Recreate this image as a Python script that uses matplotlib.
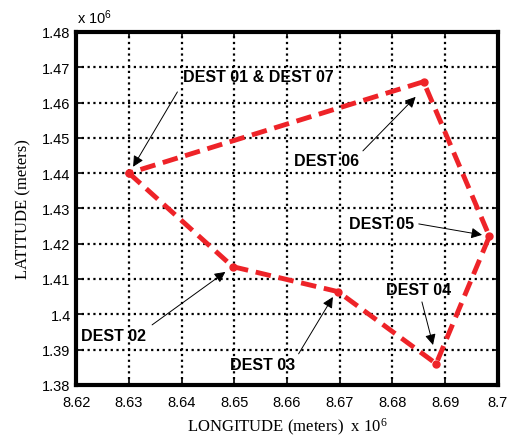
import matplotlib
matplotlib.use("Agg")
from matplotlib import pyplot as plt

# route through the destinations (x 10^6 metres)
dest_names = ["DEST 01", "DEST 02", "DEST 03", "DEST 04", "DEST 05", "DEST 06", "DEST 07"]
longitude = [8.6300, 8.6497, 8.6697, 8.6883, 8.6984, 8.6859, 8.6300]
latitude = [1.4400, 1.4135, 1.4064, 1.3860, 1.4221, 1.4659, 1.4400]

x_ticks = [8.62, 8.63, 8.64, 8.65, 8.66, 8.67, 8.68, 8.69, 8.70]
x_tick_labels = ["8.62", "8.63", "8.64", "8.65", "8.66", "8.67", "8.68", "8.69", "8.7"]
y_ticks = [1.38, 1.39, 1.40, 1.41, 1.42, 1.43, 1.44, 1.45, 1.46, 1.47, 1.48]
y_tick_labels = ["1.38", "1.39", "1.4", "1.41", "1.42", "1.43", "1.44", "1.45", "1.46", "1.47", "1.48"]

# label text, text position, arrow tail, arrow head
labels = [
    ("DEST 01 & DEST 07", (8.6546, 1.4673), (8.6392, 1.4630), (8.6308, 1.4418)),
    ("DEST 06", (8.6675, 1.4437), (8.6744, 1.4463), (8.6844, 1.4616)),
    ("DEST 05", (8.6780, 1.4256), (8.6850, 1.4256), (8.6970, 1.4225)),
    ("DEST 04", (8.6850, 1.4069), (8.6856, 1.4035), (8.6877, 1.3913)),
    ("DEST 03", (8.6554, 1.3857), (8.6622, 1.3888), (8.6687, 1.4049)),
    ("DEST 02", (8.6270, 1.3939), (8.6344, 1.3970), (8.6483, 1.4120)),
]

plt.rcParams["font.family"] = ["Liberation Sans", "DejaVu Sans"]

fig = plt.figure(figsize=(5.08, 4.39), dpi=100)
ax = fig.add_axes([0.150, 0.121, 0.830, 0.804])

ax.plot(longitude, latitude, color="#ee2328", lw=3.5, linestyle=(0, (3.2, 1.6)),
        marker=".", markersize=10, zorder=3)

ax.set_xlim(8.62, 8.70)
ax.set_ylim(1.38, 1.48)
ax.set_xticks(x_ticks)
ax.set_xticklabels(x_tick_labels)
ax.set_yticks(y_ticks)
ax.set_yticklabels(y_tick_labels)
ax.tick_params(direction="in", length=4, width=1.2, labelsize=10.5,
               top=True, right=True)
ax.tick_params(axis="x", pad=7)
ax.tick_params(axis="y", pad=4)

ax.grid(True, color="black", linestyle=(0, (1, 1.6)), linewidth=1.6)
for sp in ax.spines.values():
    sp.set_linewidth(3)

for text, pos, tail, head in labels:
    ax.text(pos[0], pos[1], text, fontsize=11.5, fontweight="bold",
            ha="center", va="center", zorder=4)
    ax.annotate("", xy=head, xytext=tail,
                arrowprops=dict(arrowstyle="-|>", color="black", lw=0.7,
                                mutation_scale=16, shrinkA=0, shrinkB=0),
                zorder=4)

ax.set_xlabel(r"LONGITUDE (meters)  x 10$\mathregular{^6}$",
              family="Liberation Serif", fontsize=12, labelpad=5)
ax.set_ylabel("LATITUDE (meters)", family="Liberation Serif", fontsize=12, labelpad=8)
fig.text(0.152, 0.938, r"x 10$\mathregular{^6}$", fontsize=10.5, ha="left", va="bottom")

fig.savefig("out.png", dpi=100)
